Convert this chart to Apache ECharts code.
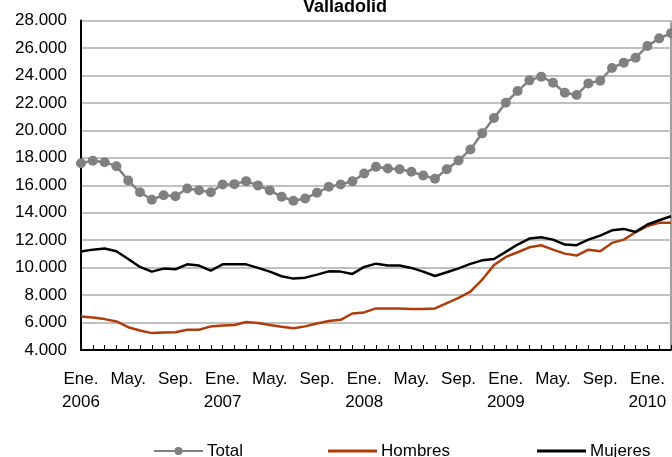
<!DOCTYPE html>
<html>
<head>
<meta charset="utf-8">
<script src="https://cdn.jsdelivr.net/npm/echarts@6/dist/echarts.min.js"></script>
<style>html,body{margin:0;padding:0;background:#fff}#c{width:672px;height:457px}</style>
</head>
<body>
<div id="c"></div>
<script>
var months = ['Ene.','Feb.','Mar.','Abr.','May.','Jun.','Jul.','Ago.','Sep.','Oct.','Nov.','Dic.'];
var years = [2006, 2007, 2008, 2009, 2010];
var categories = [];
for (var y = 0; y < years.length; y++) {
  for (var m = 0; m < 12; m++) {
    if (years[y] === 2010 && m > 2) break;
    categories.push(m === 0 ? months[m] + '\n' + years[y] : months[m]);
  }
}
var total = [17600,17780,17680,17390,16340,15490,14950,15270,15200,15760,15640,15490,
             16050,16080,16300,15990,15620,15160,14870,15040,15450,15890,16050,16290,
             16850,17340,17220,17170,16980,16710,16470,17170,17800,18610,19780,20900,
             22010,22860,23640,23910,23470,22740,22570,23420,23620,24540,24930,25290,
             26140,26700,27070];
var hombres = [6445,6370,6250,6080,5660,5420,5230,5280,5300,5470,5470,5720,
               5790,5820,6040,5960,5820,5690,5590,5720,5930,6110,6200,6660,
               6740,7030,7030,7030,6980,6980,7030,7420,7790,8250,9120,10190,
               10780,11120,11480,11630,11310,11020,10880,11310,11190,11800,12040,12580,
               13020,13260,13260];
var mujeres = [11170,11310,11390,11190,10630,10050,9710,9930,9880,10240,10150,9780,
               10240,10240,10240,9980,9710,9370,9200,9270,9490,9730,9710,9540,
               10050,10290,10150,10150,9980,9710,9390,9660,9950,10270,10530,10630,
               11150,11680,12120,12210,12040,11680,11630,12040,12330,12720,12820,12600,
               13140,13450,13740];
var yMin = 4000, yMax = 28000, yStep = 2000;

var chart = echarts.init(document.getElementById('c'), null, {renderer: 'canvas'});
var font = 'Liberation Sans, Arial, sans-serif';
function legendAt(name, left, plain) {
  var item = plain ? {name: name, icon: 'rect'} : {name: name};
  var h = plain ? 3 : 10;
  return {
    data: [item], left: left, top: 442.5, padding: 0,
    itemWidth: 49, itemHeight: h, itemGap: 4,
    textStyle: {fontFamily: font, fontSize: 17, color: '#000', padding: [0,0,0,-1]}
  };
}
chart.setOption({
  animation: false,
  backgroundColor: '#fff',
  title: {
    text: 'Valladolid', left: 303, top: -2, padding: 0,
    textStyle: {fontFamily: font, fontSize: 18, fontWeight: 'bold', color: '#000'}
  },
  legend: [legendAt('Total', 153, false), legendAt('Hombres', 328, true), legendAt('Mujeres', 537, true)],
  grid: {
    left: 81, right: 1, top: 20.5, bottom: 107,
    show: true, borderColor: '#404040', borderWidth: 1,
    containLabel: false, outerBoundsMode: 'none'
  },
  xAxis: {
    type: 'category', data: categories, boundaryGap: false,
    axisLine: {show: true, onZero: false, lineStyle: {color: '#000', width: 2}},
    axisTick: {show: true, inside: true, length: 5, interval: 0, lineStyle: {color: '#000', width: 1}},
    axisLabel: {interval: 3, margin: 18, fontFamily: font, fontSize: 17, lineHeight: 23, color: '#000'},
    splitLine: {show: false}
  },
  yAxis: {
    type: 'value', min: yMin, max: yMax, interval: yStep,
    axisLine: {show: true, lineStyle: {color: '#000', width: 2}},
    axisTick: {show: false},
    axisLabel: {
      margin: 14, fontFamily: font, fontSize: 17, color: '#000',
      formatter: function (v) { return v.toString().replace(/\B(?=(\d{3})+(?!\d))/g, '.'); }
    },
    splitLine: {show: true, lineStyle: {color: '#c0c0c0', width: 2}}
  },
  series: [
    {name: 'Total', type: 'line', data: total, symbol: 'circle', symbolSize: 10, showSymbol: true, showAllSymbol: true,
     itemStyle: {color: '#808080'}, lineStyle: {color: '#808080', width: 2.5}, z: 3},
    {name: 'Hombres', type: 'line', data: hombres, symbol: 'none',
     itemStyle: {color: '#b03c0a'}, lineStyle: {color: '#b03c0a', width: 2.5}, z: 2},
    {name: 'Mujeres', type: 'line', data: mujeres, symbol: 'none',
     itemStyle: {color: '#000'}, lineStyle: {color: '#000', width: 2.5}, z: 2}
  ]
});
</script>
</body>
</html>
